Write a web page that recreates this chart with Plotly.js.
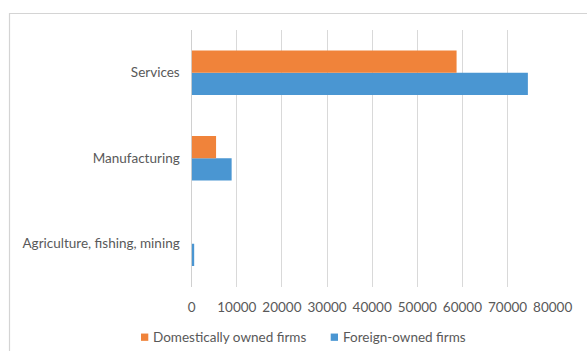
<!DOCTYPE html>
<html>
<head>
<meta charset="utf-8">
<script src="https://cdn.plot.ly/plotly-3.0.1.min.js"></script>
<style>html,body{margin:0;padding:0;background:#fff;}#chart{width:587px;height:351px;}</style>
</head>
<body>
<div id="chart"></div>
<script>
var categories = ["Agriculture, fishing, mining", "Manufacturing", "Services"];
var domesticValues = [0, 5400, 58700];
var foreignValues = [550, 8850, 74500];
var seriesNames = ["Domestically owned firms", "Foreign-owned firms"];
var seriesColors = ["#F0833A", "#4A96D2"];
var xTickValues = [0, 10000, 20000, 30000, 40000, 50000, 60000, 70000, 80000];

var W = 587, H = 351;
var plotL = 191.7, plotR = 552.7, plotT = 30, plotB = 286.5;

var traces = [
  {type: "bar", orientation: "h", name: seriesNames[1], y: categories, x: foreignValues,
   marker: {color: seriesColors[1]}, hoverinfo: "x", showlegend: false},
  {type: "bar", orientation: "h", name: seriesNames[0], y: categories, x: domesticValues,
   marker: {color: seriesColors[0]}, hoverinfo: "x", showlegend: false}
];

// legend drawn as shapes + text annotations (Excel-style small square keys)
var legendItems = [
  {name: seriesNames[0], color: seriesColors[0], sq: 141, tx: 152},
  {name: seriesNames[1], color: seriesColors[1], sq: 330.7, tx: 341.7}
];
var legendY = 337.2, sqSize = 7.3;

var shapes = [
  {type: "rect", xref: "paper", yref: "paper", x0: 9.5 / W, x1: 1.1, y0: -0.1, y1: (H - 13.5) / H,
   line: {color: "#d4d4d4", width: 1.2}, fillcolor: "rgba(0,0,0,0)", layer: "below"}
];
var annotations = [];
legendItems.forEach(function (it) {
  shapes.push({type: "rect", xref: "paper", yref: "paper",
    x0: it.sq / W, x1: (it.sq + sqSize) / W,
    y0: (H - legendY - sqSize / 2) / H, y1: (H - legendY + sqSize / 2) / H,
    line: {width: 0}, fillcolor: it.color});
  annotations.push({xref: "paper", yref: "paper", x: it.tx / W, y: (H - legendY) / H,
    xanchor: "left", yanchor: "middle", text: it.name, showarrow: false,
    borderpad: 0, font: {size: 13.5, color: "#595959"}});
});

var layout = {
  width: W, height: H,
  margin: {l: 0, r: 0, t: 0, b: 0},
  paper_bgcolor: "#ffffff", plot_bgcolor: "#ffffff",
  font: {family: "Lato, 'Open Sans', sans-serif", size: 13.5, color: "#595959"},
  barmode: "group", bargap: 0.48, bargroupgap: 0,
  showlegend: false,
  xaxis: {
    domain: [plotL / W, plotR / W],
    range: [0, 80000], tickvals: xTickValues, ticktext: xTickValues.map(String),
    showgrid: true, gridcolor: "#d9d9d9", gridwidth: 1,
    zeroline: true, zerolinecolor: "#d0d0d0", zerolinewidth: 1,
    showline: false, ticks: "", ticklabelstandoff: 11, fixedrange: true
  },
  yaxis: {
    domain: [(H - plotB) / H, (H - plotT) / H],
    type: "category", categoryorder: "array", categoryarray: categories,
    range: [-0.5, 2.5],
    showgrid: false, zeroline: false, showline: false, ticks: "", ticklabelstandoff: 11,
    fixedrange: true
  },
  shapes: shapes,
  annotations: annotations
};

Plotly.newPlot("chart", traces, layout, {displayModeBar: false, staticPlot: true});
</script>
</body>
</html>
